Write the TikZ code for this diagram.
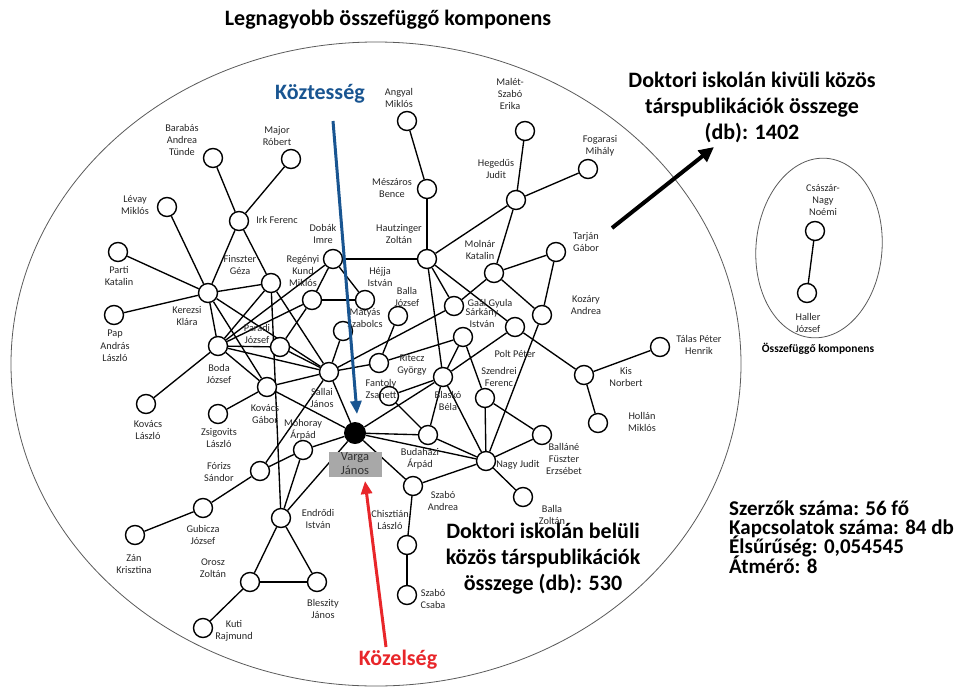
\documentclass[tikz,border=0pt]{standalone}
\usepackage{fontspec}
\setmainfont{Carlito}
\usetikzlibrary{arrows.meta,backgrounds}
\definecolor{kblue}{RGB}{25,85,145}
\definecolor{kred}{RGB}{232,38,42}
\definecolor{vgray}{RGB}{168,168,168}
\definecolor{ringgray}{RGB}{90,90,90}
\lineskiplimit=-30pt
\begin{document}
\begin{tikzpicture}[x=1pt,y=-1pt,
  pn/.style={circle,draw,line width=1.4pt,fill=white,minimum size=19pt,inner sep=0pt},
  lbl/.style={font=\fontsize{10.3}{12.3}\selectfont,align=center,inner sep=0pt,text=black!85},
  edge/.style={line width=1.35pt},
  big/.style={font=\fontsize{22}{26}\selectfont\bfseries,align=center,inner sep=0pt}]
\useasboundingbox (0,0) rectangle (966,688);
% outlines
\draw[line width=0.8pt,ringgray] (376,364) ellipse [x radius=365, y radius=322];
\draw[line width=0.8pt,ringgray,rotate around={-5:(819,248)}] (819,248) ellipse [x radius=63, y radius=90];
% nodes
\node[pn] (barabas) at (213,158) {};
\node[pn] (major) at (291,159) {};
\node[pn] (levay) at (167,207) {};
\node[pn] (irk) at (239,221) {};
\node[pn] (parti) at (118,252) {};
\node[pn] (kerezsi) at (208,293) {};
\node[pn] (finszter) at (271,283) {};
\node[pn] (pap) at (114,315) {};
\node[pn] (dobak) at (333,259) {};
\node[pn] (regenyi) at (312,300) {};
\node[pn] (hejja) at (365,300) {};
\node[pn] (matyas) at (343,331) {};
\node[pn] (ballaj) at (398,316) {};
\node[pn] (angyal) at (407,121) {};
\node[pn] (meszaros) at (427,189) {};
\node[pn] (hautz) at (427,259) {};
\node[pn] (malet) at (525,131) {};
\node[pn] (fogarasi) at (588,169) {};
\node[pn] (hegedus) at (516,200) {};
\node[pn] (tarjan) at (556,252) {};
\node[pn] (molnar) at (494,273) {};
\node[pn] (gaal) at (454,306) {};
\node[pn] (kozary) at (542,315) {};
\node[pn] (polt) at (515,327) {};
\node[pn] (sarkany) at (463,337) {};
\node[pn] (paradi) at (280,347) {};
\node[pn] (boda) at (218,346) {};
\node[pn] (sallai) at (329,372) {};
\node[pn] (ritecz) at (379,363) {};
\node[pn] (kovacsg) at (267,387) {};
\node[pn] (blasko) at (443,377) {};
\node[pn] (fantoly) at (389,396) {};
\node[pn] (szendrei) at (485,398) {};
\node[pn] (kis) at (584,375) {};
\node[pn] (talas) at (660,347) {};
\node[pn] (hollan) at (598,423) {};
\node[pn] (ballane) at (542,435) {};
\node[pn] (nagyj) at (486,461) {};
\node[pn] (ballaz) at (523,497) {};
\node[circle,fill=black,minimum size=22pt,inner sep=0pt] (varga) at (355,433) {};
\node[pn] (budahazi) at (428,435) {};
\node[pn] (mohoray) at (303,450) {};
\node[pn] (kovacsl) at (146,404) {};
\node[pn] (zsigovits) at (218,414) {};
\node[pn] (forizs) at (260,471) {};
\node[pn] (gubicza) at (203,508) {};
\node[pn] (zan) at (135,535) {};
\node[pn] (endrodi) at (281,518) {};
\node[pn] (orosz) at (250,582) {};
\node[pn] (kuti) at (203,628) {};
\node[pn] (bleszity) at (317,582) {};
\node[pn] (szaboa) at (413,486) {};
\node[pn] (chisztian) at (407,545) {};
\node[pn] (szaboc) at (407,595) {};
\node[pn] (csaszar) at (815,231) {};
\node[pn] (haller) at (807,293) {};
% edges
\begin{scope}[on background layer]
\foreach \a/\b in {irk/barabas,irk/major,irk/kerezsi,irk/finszter,
 kerezsi/levay,kerezsi/parti,kerezsi/pap,kerezsi/finszter,kerezsi/boda,kerezsi/sallai,kerezsi/kovacsg,
 angyal/meszaros,meszaros/hautz,dobak/hautz,hautz/hegedus,malet/hegedus,fogarasi/hegedus,hegedus/molnar,
 molnar/tarjan,tarjan/kozary,molnar/gaal,molnar/kozary,kozary/nagyj,
 hautz/blasko,hautz/gaal,hautz/polt,
 dobak/regenyi,dobak/hejja,dobak/boda,regenyi/hejja,regenyi/paradi,regenyi/boda,
 matyas/sallai,ballaj/ritecz,ritecz/sallai,sallai/gaal,ritecz/sarkany,
 sallai/varga,sallai/boda,sallai/kovacsg,fantoly/blasko,fantoly/budahazi,blasko/sarkany,blasko/polt,blasko/nagyj,
 blasko/budahazi,varga/blasko,sarkany/szendrei,szendrei/nagyj,szendrei/ballane,polt/kis,kis/talas,kis/hollan,
 ballane/nagyj,nagyj/ballaz,nagyj/szaboa,nagyj/budahazi,varga/nagyj,varga/budahazi,varga/szaboa,
 szaboa/chisztian,chisztian/szaboc,varga/endrodi,varga/mohoray,varga/kovacsg,
 endrodi/mohoray,endrodi/orosz,endrodi/bleszity,orosz/bleszity,orosz/kuti,finszter/endrodi,
 forizs/gubicza,gubicza/zan,forizs/mohoray,forizs/sallai,kovacsg/zsigovits,boda/kovacsl,boda/kovacsg,boda/paradi,
 finszter/boda,finszter/sallai,paradi/sallai,csaszar/haller}
 \draw[edge] (\a) -- (\b);
\end{scope}
% labels
\node[lbl] (tbarabas) at (182,140) {Barabás\\Andrea\\Tünde};
\node[lbl] (tmajor) at (277,136) {Major\\Róbert};
\node[lbl] (tlevay) at (135,205) {Lévay\\Miklós};
\node[lbl] (tirk) at (277,220) {Irk Ferenc};
\node[lbl] (tparti) at (119,276) {Parti\\Katalin};
\node[lbl] (tfinszter) at (240,265) {Finszter\\Géza};
\node[lbl] (tkerezsi) at (187,316) {Kerezsi\\Klára};
\node[lbl] (tpap) at (115,346) {Pap\\András\\László};
\node[lbl] (tdobak) at (323,234) {Dobák\\Imre};
\node[lbl] (tregenyi) at (303,271) {Regényi\\Kund\\Miklós};
\node[lbl] (thejja) at (380,277) {Héjja\\István};
\node[lbl] (tballaj) at (407,297) {Balla\\József};
\node[lbl] (tmatyas) at (365,318) {Mátyás\\Szabolcs};
\node[lbl] (tangyal) at (399,98) {Angyal\\Miklós};
\node[lbl] (tmeszaros) at (392,188) {Mészáros\\Bence};
\node[lbl] (thautz) at (399,234) {Hautzinger\\Zoltán};
\node[lbl] (tmalet) at (510,94) {Malét-\\Szabó\\Erika};
\node[lbl] (tfogarasi) at (600,146) {Fogarasi\\Mihály};
\node[lbl] (thegedus) at (496,169) {Hegedűs\\Judit};
\node[lbl] (ttarjan) at (586,242) {Tarján\\Gábor};
\node[lbl] (tmolnar) at (480,250) {Molnár\\Katalin};
\node[lbl] (tgaal) at (490,304) {Gaál Gyula};
\node[lbl] (tsarkany) at (482,318) {Sárkány\\István};
\node[lbl] (tkozary) at (586,305) {Kozáry\\Andrea};
\node[lbl] (tpolt) at (515,354) {Polt Péter};
\node[lbl] (tszendrei) at (499,377) {Szendrei\\Ferenc};
\node[lbl] (tkis) at (626,377) {Kis\\Norbert};
\node[lbl] (ttalas) at (699,345) {Tálas Péter\\Henrik};
\node[lbl] (thollan) at (642,422) {Hollán\\Miklós};
\node[lbl] (tballane) at (564,459) {Balláné\\Füszter\\Erzsébet};
\node[lbl] (tnagyj) at (518,465) {Nagy Judit};
\node[lbl] (tballaz) at (552,515) {Balla\\Zoltán};
\node[lbl] (tparadi) at (257,334) {Paradi\\József};
\node[lbl] (tboda) at (219,374) {Boda\\József};
\node[lbl] (tkovacsg) at (265,414) {Kovács\\Gábor};
\node[lbl] (tkovacsl) at (148,430) {Kovács\\László};
\node[lbl] (tzsigovits) at (219,438) {Zsigovits\\László};
\node[lbl] (tforizs) at (219,472) {Fórizs\\Sándor};
\node[lbl] (tgubicza) at (203,535) {Gubicza\\József};
\node[lbl] (tzan) at (134,564) {Zán\\Krisztina};
\node[lbl] (torosz) at (213,568) {Orosz\\Zoltán};
\node[lbl] (tkuti) at (234,631) {Kuti\\Rajmund};
\node[lbl] (tmohoray) at (303,430) {Mohoray\\Árpád};
\node[lbl] (tsallai) at (322,398) {Sallai\\János};
\node[lbl] (tritecz) at (412,365) {Ritecz\\György};
\node[lbl] (tfantoly) at (381,389) {Fantoly\\Zsanett};
\node[lbl] (tblasko) at (448,401) {Blaskó\\Béla};
\node[lbl] (tbudahazi) at (420,459) {Budaházi\\Árpád};
\node[lbl] (tszaboa) at (443,501) {Szabó\\Andrea};
\node[lbl] (tendrodi) at (318,519) {Endrődi\\István};
\node[lbl] (tchisztian) at (390,520) {Chisztián\\László};
\node[lbl] (tbleszity) at (323,609) {Bleszity\\János};
\node[lbl] (tszaboc) at (433,599) {Szabó\\Csaba};
\node[lbl] (tcsaszar) at (823,200) {Császár-\\Nagy\\Noémi};
\node[lbl] (thaller) at (808,323) {Haller\\József};
\node[fill=vgray,minimum width=53pt,minimum height=25pt,inner sep=0pt,align=center,
  font=\fontsize{12.5}{14}\selectfont,text=black!80] (tvarga) at (355,464) {Varga\\János};
% headline texts
\node[big] (title) at (388,20) {Legnagyobb összefüggő komponens};
\node[big] (kivuli) at (752,107) {Doktori iskolán kivüli közös\\társpublikációk összege\\(db): 1402};
\node[big] (beluli) at (543,559) {Doktori iskolán belüli\\közös társpublikációk\\összege (db): 530};
\node[font=\fontsize{21}{19.4}\selectfont\bfseries,align=left,anchor=west,inner sep=0pt] (stats) at (729,537)
  {Szerzők száma: 56 fő\\Kapcsolatok száma: 84 db\\Élsűrűség: 0,054545\\Átmérő: 8};
\node[font=\fontsize{11.5}{14}\selectfont\bfseries,inner sep=0pt] (osszlbl) at (818,349) {Összefüggő komponens};
\node[big,text=kblue] (koztes) at (320,94) {Köztesség};
\node[big,text=kred] (kozel) at (398,660) {Közelség};
% arrows
\coordinate (b1) at (333,121);
\coordinate (b2) at (357,414);
\draw[kblue,line width=3pt,-{Triangle[length=13pt,width=11pt]}] (b1) -- (b2);
\coordinate (r1) at (386,647);
\coordinate (r2) at (365,481);
\draw[kred,line width=3pt,-{Triangle[length=13pt,width=11pt]}] (r1) -- (r2);
\coordinate (k1) at (612,228);
\coordinate (k2) at (714,147);
\draw[black,line width=4pt,-{Triangle[length=15pt,width=14pt]}] (k1) -- (k2);
\end{tikzpicture}
\end{document}
